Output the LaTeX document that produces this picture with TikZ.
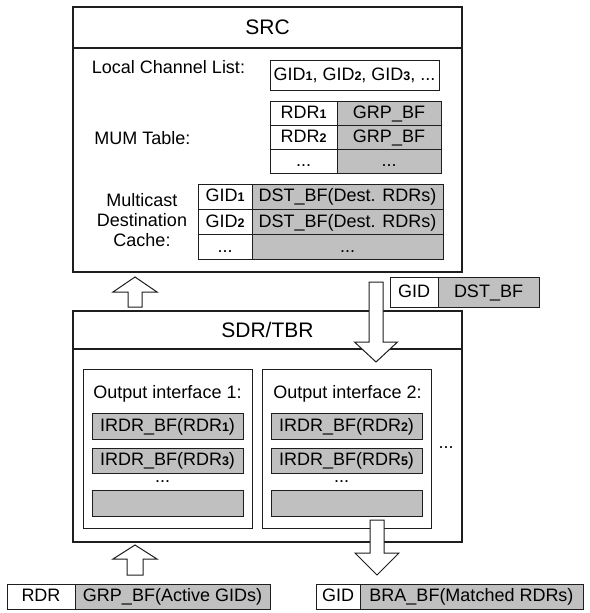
\documentclass[tikz,border=0pt]{standalone}
\usepackage{fontspec}
\setmainfont{Liberation Sans}
\definecolor{boxgray}{RGB}{192,192,192}
\definecolor{edge}{RGB}{30,30,30}
\newcommand{\dg}[1]{{\fontsize{12.5}{13}\selectfont\bfseries #1}}
\begin{document}
\begin{tikzpicture}[x=1pt,y=-1pt,
  font=\fontsize{18}{20}\selectfont,
  bigbox/.style={draw=edge, line width=1.4pt, inner sep=0pt, fill=white},
  ifbox/.style={draw=edge, line width=1pt, inner sep=0pt, fill=white},
  cell/.style={draw=edge, line width=1pt, inner sep=0pt, text height=13pt, text depth=3pt, fill=white},
  gcell/.style={cell, fill=boxgray},
  lbl/.style={inner sep=0pt, anchor=base},
  title/.style={inner sep=0pt, font=\fontsize{21}{24}\selectfont, text height=15pt, text depth=3pt},
  blockarrow/.style={draw=edge, line width=1pt, fill=white, line join=miter}]

\useasboundingbox (0,0) rectangle (589,613);

% ---------------- SRC ----------------
\node[bigbox, minimum width=389pt, minimum height=265pt] (src) at (267.5,139.5) {};
\draw[edge, line width=1.4pt] (src.west |- 0,48) coordinate (srcL) -- (src.east |- 0,48) coordinate (srcR);
\node[title] (srcT) at (267.5,28) {SRC};

\node[lbl] (lclL) at (168.5,73) {Local Channel List:};
\node[cell, minimum width=169pt, minimum height=30pt] (lcl) at (354.5,75) {GID\dg{1}, GID\dg{2}, GID\dg{3}, ...};

\node[lbl] (mumL) at (142.5,144) {MUM Table:};
\node[cell,  minimum width=67pt,  minimum height=24.33pt] (mA1) at (303.5,113.17) {RDR\dg{1}};
\node[gcell, minimum width=104pt, minimum height=24.33pt] (mA2) at (389,113.17) {GRP\_BF};
\node[cell,  minimum width=67pt,  minimum height=24.33pt] (mB1) at (303.5,137.5) {RDR\dg{2}};
\node[gcell, minimum width=104pt, minimum height=24.33pt] (mB2) at (389,137.5) {GRP\_BF};
\node[cell,  minimum width=67pt,  minimum height=24.33pt] (mC1) at (303.5,161.83) {...};
\node[gcell, minimum width=104pt, minimum height=24.33pt] (mC2) at (389,161.83) {...};

\node[lbl] (mdcA) at (142,206) {Multicast};
\node[lbl] (mdcB) at (142,226) {Destination};
\node[lbl] (mdcC) at (142,246) {Cache:};
\node[cell,  minimum width=54pt,  minimum height=25.33pt] (dA1) at (225,196.67) {GID\dg{1}};
\node[gcell, minimum width=191pt, minimum height=25.33pt] (dA2) at (347.5,196.67) {DST\_BF(Dest. RDRs)};
\node[cell,  minimum width=54pt,  minimum height=25.33pt] (dB1) at (225,222) {GID\dg{2}};
\node[gcell, minimum width=191pt, minimum height=25.33pt] (dB2) at (347.5,222) {DST\_BF(Dest. RDRs)};
\node[cell,  minimum width=54pt,  minimum height=25.33pt] (dC1) at (225,247.33) {...};
\node[gcell, minimum width=191pt, minimum height=25.33pt] (dC2) at (347.5,247.33) {...};

% ---------------- GID / DST_BF message ----------------
\node[cell,  minimum width=48pt,  minimum height=30pt] (msgA) at (414,292) {GID};
\node[gcell, minimum width=101pt, minimum height=30pt] (msgB) at (488.5,292) {DST\_BF};

% ---------------- SDR/TBR ----------------
\node[bigbox, minimum width=389pt, minimum height=231pt] (sdr) at (267.5,426.5) {};
\draw[edge, line width=1.4pt] (sdr.west |- 0,349) -- (sdr.east |- 0,349);
\node[title] (sdrT) at (267.5,331) {SDR/TBR};

\node[ifbox, minimum width=169pt, minimum height=159pt] (if1) at (167.5,448.5) {};
\node[ifbox, minimum width=169pt, minimum height=159pt] (if2) at (346.5,448.5) {};
\node[lbl] (if1T) at (167.5,398) {Output interface 1:};
\node[lbl] (if2T) at (347.5,398) {Output interface 2:};

\node[gcell, minimum width=151pt, minimum height=26pt] (i1a) at (167.5,426) {IRDR\_BF(RDR\dg{1})};
\node[gcell, minimum width=151pt, minimum height=25pt] (i1b) at (167.5,460.5) {IRDR\_BF(RDR\dg{3})};
\node[lbl] (i1d) at (162.5,482) {...};
\node[gcell, minimum width=151pt, minimum height=26pt] (i1c) at (167.5,503) {};

\node[gcell, minimum width=151pt, minimum height=26pt] (i2a) at (346.5,426) {IRDR\_BF(RDR\dg{2})};
\node[gcell, minimum width=151pt, minimum height=25pt] (i2b) at (346.5,460.5) {IRDR\_BF(RDR\dg{5})};
\node[lbl] (i2d) at (341.5,482) {...};
\node[gcell, minimum width=151pt, minimum height=26pt] (i2c) at (346.5,503) {};

\node[lbl] (moreIf) at (446,448) {...};

% ---------------- bottom messages ----------------
\node[cell,  minimum width=68pt,  minimum height=25pt] (rdrA) at (41,596.5) {RDR};
\node[gcell, minimum width=195pt, minimum height=25pt] (rdrB) at (172.5,596.5) {GRP\_BF(Active GIDs)};
\node[cell,  minimum width=44pt,  minimum height=25pt] (braA) at (338,596.5) {GID};
\node[gcell, minimum width=223pt, minimum height=25pt] (braB) at (471.5,596.5) {BRA\_BF(Matched RDRs)};

% ---------------- block arrows ----------------
\coordinate (up1) at (135,307);
\draw[blockarrow] (up1) ++(-7,0) -- ++(0,-15) -- ++(-15,0) -- (135,277) -- (157,292) -- (142,292) -- (142,307) -- cycle;

\coordinate (dn1) at (376,282);
\draw[blockarrow] (dn1) ++(-7,0) -- ++(0,60) -- ++(-14.5,0) -- (376,362) -- (397.5,342) -- (383,342) -- (383,282) -- cycle;

\coordinate (dn2) at (377,520);
\draw[blockarrow] (dn2) ++(-7,0) -- ++(0,33) -- ++(-15,0) -- (377,575) -- (399,553) -- (384,553) -- (384,520) -- cycle;

\coordinate (up2) at (135,575);
\draw[blockarrow] (up2) ++(-8,0) -- ++(0,-16) -- ++(-14,0) -- (135,545) -- (157,559) -- (143,559) -- (143,575) -- cycle;

\end{tikzpicture}
\end{document}
